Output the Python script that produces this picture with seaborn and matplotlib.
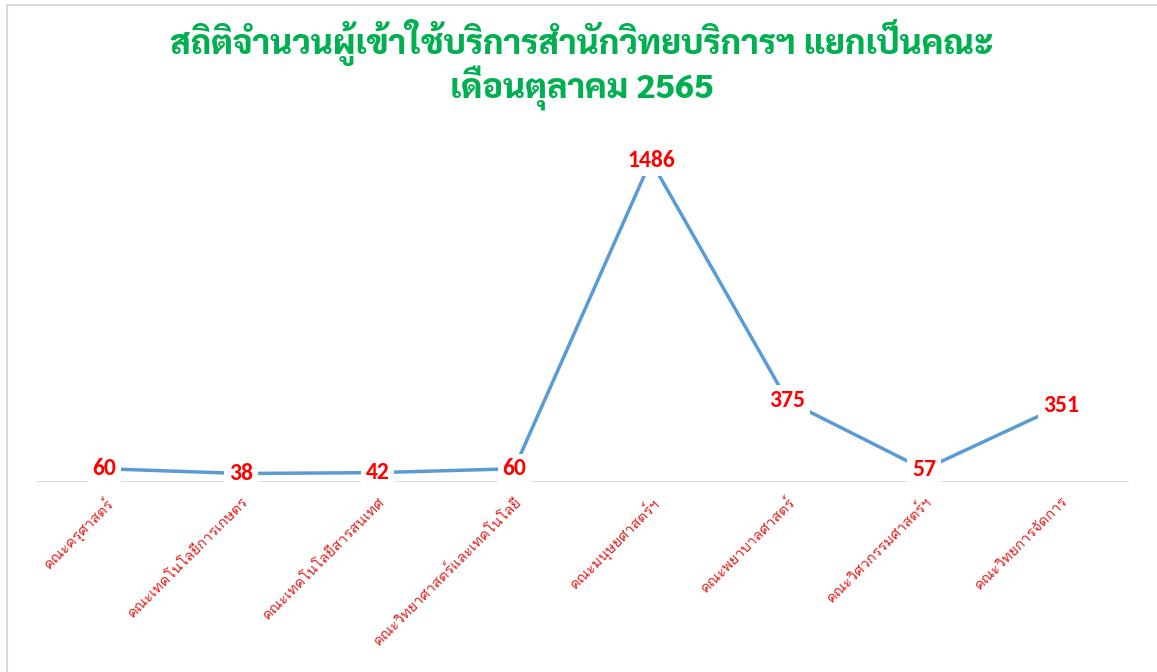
import matplotlib
matplotlib.use("Agg")
import numpy as np
import seaborn as sns
import matplotlib.pyplot as plt
from matplotlib.patches import Rectangle

# data
faculties = ['คณะครุศาสตร์', 'คณะเทคโนโลยีการเกษตร', 'คณะเทคโนโลยีสารสนเทศ',
             'คณะวิทยาศาสตร์และเทคโนโลยี', 'คณะมนุษยศาสตร์ฯ', 'คณะพยาบาลศาสตร์',
             'คณะวิศวกรรมศาสตร์ฯ', 'คณะวิทยการจัดการ']
users = [60, 38, 42, 60, 1486, 375, 57, 351]
title = 'สถิติจำนวนผู้เข้าใช้บริการสำนักวิทยบริการฯ แยกเป็นคณะ\nเดือนตุลาคม 2565'

sns.set_style('white')
thai = ['Loma', 'Sarabun', 'DejaVu Sans']
num_font = ['Carlito', 'Lato', 'DejaVu Sans']

fig = plt.figure(figsize=(11.57, 6.72), dpi=100)
W, H = 1157, 672
ax = fig.add_axes([36 / W, 1 - 481.7 / H, 1093 / W, 345.6 / H])

x = np.arange(len(faculties))
sns.lineplot(x=x, y=users, ax=ax, color='#5B9BD5', linewidth=2.5, zorder=2)

# value labels sit on the points, white box hides the line
for xi, v in zip(x, users):
    ax.text(xi, v, str(v), ha='center', va='center', color='#FF0000',
            fontsize=17, fontweight='bold', family=num_font, zorder=4,
            bbox=dict(boxstyle='square,pad=0.2', fc='white', ec='none'))

ax.axhline(0, color='#D9D9D9', lw=2, zorder=1)
ax.set_xlim(-0.5, len(faculties) - 0.5)
ax.set_ylim(0, 1600)
ax.set_yticks([])
ax.set_xticks(x)
ax.set_xticklabels(faculties, rotation=45, ha='right', rotation_mode='anchor',
                   color='#E0201C', fontsize=10.5, family=thai)
ax.tick_params(axis='x', length=0, pad=9)
for s in ax.spines.values():
    s.set_visible(False)
ax.patch.set_alpha(0)

fig.text(0.503, 1 - 65 / H, title, ha='center', va='center', color='#00B050',
         fontsize=24.5, fontweight='heavy', family=['Sarabun', 'Loma', 'DejaVu Sans'],
         linespacing=1.0)

# chart-area border (only top and left edges fall inside the picture)
fig.patches.append(Rectangle((7, -50), 1300, H - 5 + 50, transform=None, fill=False,
                             ec='#D9D9D9', lw=1.5))

fig.savefig('out.png', dpi=100)
